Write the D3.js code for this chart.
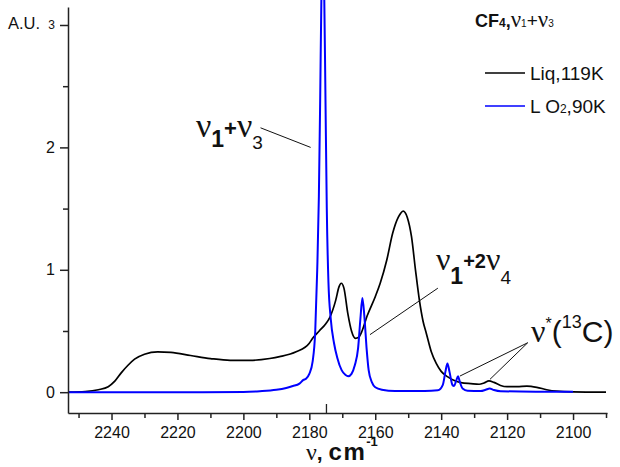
<!DOCTYPE html>
<html>
<head>
<meta charset="utf-8">
<script src="https://cdn.jsdelivr.net/npm/d3@7"></script>
<style>
  body { margin: 0; background: #fff; }
  svg { display: block; }
  text { font-family: "Liberation Sans", Arial, sans-serif; fill: #111; }
</style>
</head>
<body>
<div id="chart"></div>
<script>
// CF4 nu1+nu3 region, wavenumber (cm-1) vs absorbance (A.U.)
var liqX = [2253, 2248, 2244, 2241, 2239, 2237, 2235, 2233, 2230, 2226, 2222, 2216, 2210, 2204, 2198,
            2192, 2189, 2184, 2180, 2179, 2177, 2175, 2173.8, 2172, 2171, 2170.3, 2169.5, 2168.3, 2167.2,
            2166, 2165, 2164, 2162.5, 2160, 2158.5, 2156.5, 2154.7, 2153, 2151.5, 2150.3, 2149, 2147.8,
            2146.6, 2145.5, 2144.5, 2143, 2141.5, 2140, 2138, 2136, 2134, 2131, 2128.5, 2127, 2125.5,
            2124, 2122, 2120, 2117, 2114, 2111, 2108, 2105, 2100, 2090];
var liqY = [0, 0.005, 0.02, 0.045, 0.09, 0.16, 0.22, 0.27, 0.31, 0.33, 0.325, 0.30, 0.275, 0.26, 0.26,
            0.275, 0.29, 0.33, 0.40, 0.44, 0.50, 0.56, 0.61, 0.75, 0.86, 0.89, 0.85, 0.64, 0.50,
            0.44, 0.45, 0.50, 0.62, 0.78, 0.89, 1.08, 1.30, 1.43, 1.48, 1.43, 1.27, 1.0,
            0.75, 0.58, 0.48, 0.33, 0.235, 0.17, 0.125, 0.095, 0.078, 0.07, 0.065, 0.075, 0.092,
            0.08, 0.055, 0.045, 0.045, 0.05, 0.04, 0.02, 0.008, 0.002, 0];

var o2X = [2253, 2220, 2200, 2195, 2190, 2187, 2185, 2183, 2181.8, 2181, 2180, 2179, 2178.2, 2177.6,
           2177.1, 2176.7, 2176.3, 2175.9, 2175.5, 2175.1, 2174.7, 2174.2, 2173.5, 2172.5, 2171.5,
           2170.2, 2169, 2168.2, 2167.2, 2166.2, 2165.2, 2164.5, 2163.9, 2163.3, 2162.6, 2162, 2161,
           2160, 2158, 2154, 2145, 2141, 2139.5, 2138.7, 2138.1, 2137.5, 2136.6, 2136.1, 2135.5,
           2134.9, 2134.3, 2133.5, 2132, 2128, 2126.5, 2125.3, 2124, 2122, 2110, 2100];
var o2Y = [0, 0, 0.002, 0.008, 0.02, 0.035, 0.05, 0.07, 0.1, 0.11, 0.15, 0.25, 0.5, 1.0,
           1.6, 2.4, 3.3, 3.6, 3.3, 2.4, 1.5, 0.9, 0.6, 0.4, 0.28,
           0.18, 0.14, 0.13, 0.15, 0.22, 0.36, 0.6, 0.77, 0.62, 0.35, 0.18, 0.08,
           0.04, 0.02, 0.01, 0.01, 0.015, 0.06, 0.17, 0.235, 0.17, 0.06, 0.05, 0.09,
           0.13, 0.08, 0.03, 0.012, 0.01, 0.02, 0.03, 0.018, 0.008, 0.004, 0.003];

var xTicks = [2240, 2220, 2200, 2180, 2160, 2140, 2120, 2100];
var xMinor = [2250, 2230, 2210, 2190, 2170, 2150, 2130, 2110, 2090];
var yTicks = [0, 1, 2, 3];
var yMinor = [0.5, 1.5, 2.5];
var peakMark = 2174.8;

var width = 620, height = 467;
var serif = '"Liberation Serif", "Times New Roman", serif';

var svg = d3.select("#chart").append("svg")
    .attr("width", width)
    .attr("height", height);

var x = d3.scaleLinear().domain([2253.2, 2089.7]).range([68, 607]);
var y = d3.scaleLinear().domain([-0.17, 3.147]).range([413, 7]);

svg.append("clipPath").attr("id", "clip")
  .append("rect").attr("x", 68).attr("y", 0).attr("width", 539).attr("height", 413);

var line = d3.line()
    .x(d => x(d[0]))
    .y(d => y(d[1]))
    .curve(d3.curveMonotoneX);

var plot = svg.append("g").attr("clip-path", "url(#clip)");

plot.append("path")
    .datum(liqX.map((v, i) => [v, liqY[i]]))
    .attr("d", line)
    .attr("fill", "none")
    .attr("stroke", "#000")
    .attr("stroke-width", 1.7);

plot.append("path")
    .datum(o2X.map((v, i) => [v, o2Y[i]]))
    .attr("d", line)
    .attr("fill", "none")
    .attr("stroke", "#0000ff")
    .attr("stroke-width", 2);

// axes
function styleAxis(g) {
  g.selectAll("path, line").attr("stroke", "#222").attr("stroke-width", 1.5);
  g.selectAll("text").style("font-size", "16px").attr("fill", "#111");
}

svg.append("g").attr("transform", "translate(0,413)")
    .call(d3.axisBottom(x).tickValues(xMinor).tickSize(5).tickSizeOuter(0).tickFormat(""))
    .call(g => g.select(".domain").remove())
    .call(styleAxis);
svg.append("g").attr("transform", "translate(0,413)")
    .call(d3.axisBottom(x).tickValues(xTicks).tickSize(7).tickSizeOuter(0).tickPadding(7).tickFormat(d3.format("d")))
    .call(styleAxis);

svg.append("g").attr("transform", "translate(68,0)")
    .call(d3.axisLeft(y).tickValues(yMinor).tickSize(5).tickSizeOuter(0).tickFormat(""))
    .call(g => g.select(".domain").remove())
    .call(styleAxis);
var yAxisG = svg.append("g").attr("transform", "translate(68,0)")
    .call(d3.axisLeft(y).tickValues(yTicks).tickSize(8).tickSizeOuter(0).tickPadding(5).tickFormat(d3.format("d")))
    .call(styleAxis);
yAxisG.selectAll(".tick text").filter(d => d === 3).style("font-size", "12px");

// small marker at the nu1+nu3 peak
svg.append("line")
    .attr("x1", x(peakMark)).attr("x2", x(peakMark))
    .attr("y1", y(-0.17)).attr("y2", y(-0.17) - 9)
    .attr("stroke", "#222").attr("stroke-width", 1.3);

// rich text helper: parts with font size, bold, serif and baseline offset
function rich(px, py, parts) {
  var t = svg.append("text").attr("x", px).attr("y", py);
  var prev = 0;
  parts.forEach(function(p) {
    var off = p.dy || 0;
    var ts = t.append("tspan")
        .attr("dy", off - prev)
        .style("font-size", p.s + "px")
        .style("font-weight", p.b ? "bold" : "normal")
        .text(p.t);
    if (p.serif) ts.style("font-family", serif);
    if (p.ls) ts.style("letter-spacing", p.ls + "px");
    prev = off;
  });
  return t;
}

// y axis unit
rich(8, 28.5, [{t: "A.U.", s: 16.5}]);

// x axis title
rich(306, 460, [
  {t: "\u03BD", s: 24, serif: true},
  {t: ", ", s: 21, b: true},
  {t: "cm", s: 24, b: true, ls: 1.5},
  {t: "-1", s: 13, b: true, dy: -14}
]);

// title
rich(475, 27, [
  {t: "CF", s: 18, b: true},
  {t: "4", s: 12, b: true},
  {t: ",", s: 18, b: true},
  {t: "\u03BD", s: 23, serif: true},
  {t: "1", s: 10},
  {t: "+", s: 19},
  {t: "\u03BD", s: 23, serif: true},
  {t: "3", s: 10}
]);

// legend
var legend = [
  {name: ["Liq,119K"], color: "#000", yy: 73},
  {name: ["L O", "2", ",90K"], color: "#0000ff", yy: 106}
];
legend.forEach(function(l) {
  svg.append("line").attr("x1", 485).attr("x2", 525).attr("y1", l.yy).attr("y2", l.yy)
     .attr("stroke", l.color).attr("stroke-width", 1.7);
  var parts = l.name.length === 1 ? [{t: l.name[0], s: 19}]
    : [{t: l.name[0], s: 19}, {t: l.name[1], s: 12}, {t: l.name[2], s: 19}];
  rich(530, l.yy + 7, parts);
});

// peak annotations (positions in data units)
var ann = [
  {at: [2214.4, 2.085], parts: [
    {t: "\u03BD", s: 34, serif: true},
    {t: "1", s: 23, b: true, dy: 10},
    {t: "+", s: 22, b: true, dy: -1},
    {t: "\u03BD", s: 34, serif: true},
    {t: "3", s: 19, dy: 12}]},
  {at: [2141.6, 1.0], parts: [
    {t: "\u03BD", s: 32, serif: true},
    {t: "1", s: 23, b: true, dy: 14},
    {t: "+2", s: 20, b: true, dy: -2},
    {t: "\u03BD", s: 32, serif: true},
    {t: "4", s: 19, dy: 14}]},
  {at: [2112.75, 0.41], parts: [
    {t: "\u03BD", s: 32, serif: true},
    {t: "*", s: 16, dy: -13},
    {t: "(", s: 30},
    {t: "13", s: 18, dy: -14},
    {t: "C)", s: 30}]}
];
ann.forEach(a => rich(x(a.at[0]), y(a.at[1]), a.parts));

var leaders = [
  [[2194.8, 2.16], [2179.6, 2.0]],
  [[2141.0, 0.85], [2161.6, 0.47]],
  [[2113.75, 0.404], [2134.3, 0.132]],
  [[2113.75, 0.404], [2125.2, 0.105]]
];
svg.selectAll(".leader").data(leaders).enter().append("line")
    .attr("class", "leader")
    .attr("x1", d => x(d[0][0])).attr("y1", d => y(d[0][1]))
    .attr("x2", d => x(d[1][0])).attr("y2", d => y(d[1][1]))
    .attr("stroke", "#111").attr("stroke-width", 1);
</script>
</body>
</html>
